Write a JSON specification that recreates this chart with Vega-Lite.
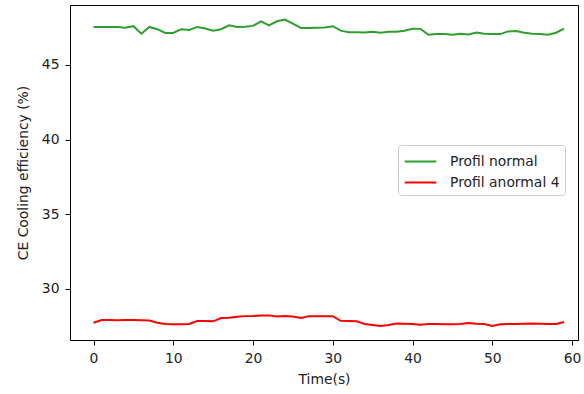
{
  "$schema": "https://vega.github.io/schema/vega-lite/v6.json",
  "width": 508,
  "height": 335,
  "autosize": {"type": "none"},
  "padding": {"left": 70, "top": 5, "right": 6, "bottom": 54},
  "config": {
    "font": "DejaVu Sans",
    "view": {"stroke": "#000", "strokeWidth": 1},
    "axis": {
      "grid": false,
      "labelFont": "DejaVu Sans",
      "titleFont": "DejaVu Sans",
      "labelFontSize": 13.9,
      "titleFontSize": 13.9,
      "titleFontWeight": "normal",
      "labelColor": "#222",
      "titleColor": "#222",
      "tickColor": "#000",
      "domainColor": "#000",
      "tickSize": 5,
      "labelPadding": 6
    }
  },
  "data": {
    "values": [
      {"t": 0, "Profil normal": 47.55, "Profil anormal 4": 27.73},
      {"t": 1, "Profil normal": 47.55, "Profil anormal 4": 27.91},
      {"t": 2, "Profil normal": 47.55, "Profil anormal 4": 27.91},
      {"t": 3, "Profil normal": 47.55, "Profil anormal 4": 27.89},
      {"t": 4, "Profil normal": 47.5, "Profil anormal 4": 27.91},
      {"t": 5, "Profil normal": 47.6, "Profil anormal 4": 27.91},
      {"t": 6, "Profil normal": 47.1, "Profil anormal 4": 27.89},
      {"t": 7, "Profil normal": 47.55, "Profil anormal 4": 27.87},
      {"t": 8, "Profil normal": 47.4, "Profil anormal 4": 27.73},
      {"t": 9, "Profil normal": 47.15, "Profil anormal 4": 27.64},
      {"t": 10, "Profil normal": 47.15, "Profil anormal 4": 27.62},
      {"t": 11, "Profil normal": 47.4, "Profil anormal 4": 27.62},
      {"t": 12, "Profil normal": 47.35, "Profil anormal 4": 27.64},
      {"t": 13, "Profil normal": 47.55, "Profil anormal 4": 27.84},
      {"t": 14, "Profil normal": 47.45, "Profil anormal 4": 27.84},
      {"t": 15, "Profil normal": 47.3, "Profil anormal 4": 27.82},
      {"t": 16, "Profil normal": 47.4, "Profil anormal 4": 28.04},
      {"t": 17, "Profil normal": 47.66, "Profil anormal 4": 28.06},
      {"t": 18, "Profil normal": 47.55, "Profil anormal 4": 28.13},
      {"t": 19, "Profil normal": 47.57, "Profil anormal 4": 28.17},
      {"t": 20, "Profil normal": 47.62, "Profil anormal 4": 28.18},
      {"t": 21, "Profil normal": 47.93, "Profil anormal 4": 28.22},
      {"t": 22, "Profil normal": 47.66, "Profil anormal 4": 28.22},
      {"t": 23, "Profil normal": 47.93, "Profil anormal 4": 28.15},
      {"t": 24, "Profil normal": 48.04, "Profil anormal 4": 28.17},
      {"t": 25, "Profil normal": 47.77, "Profil anormal 4": 28.15},
      {"t": 26, "Profil normal": 47.48, "Profil anormal 4": 28.04},
      {"t": 27, "Profil normal": 47.48, "Profil anormal 4": 28.17},
      {"t": 28, "Profil normal": 47.5, "Profil anormal 4": 28.17},
      {"t": 29, "Profil normal": 47.52, "Profil anormal 4": 28.17},
      {"t": 30, "Profil normal": 47.6, "Profil anormal 4": 28.17},
      {"t": 31, "Profil normal": 47.3, "Profil anormal 4": 27.86},
      {"t": 32, "Profil normal": 47.2, "Profil anormal 4": 27.84},
      {"t": 33, "Profil normal": 47.2, "Profil anormal 4": 27.82},
      {"t": 34, "Profil normal": 47.18, "Profil anormal 4": 27.64},
      {"t": 35, "Profil normal": 47.23, "Profil anormal 4": 27.57},
      {"t": 36, "Profil normal": 47.16, "Profil anormal 4": 27.51},
      {"t": 37, "Profil normal": 47.23, "Profil anormal 4": 27.57},
      {"t": 38, "Profil normal": 47.23, "Profil anormal 4": 27.68},
      {"t": 39, "Profil normal": 47.3, "Profil anormal 4": 27.66},
      {"t": 40, "Profil normal": 47.43, "Profil anormal 4": 27.64},
      {"t": 41, "Profil normal": 47.42, "Profil anormal 4": 27.6},
      {"t": 42, "Profil normal": 47.03, "Profil anormal 4": 27.64},
      {"t": 43, "Profil normal": 47.07, "Profil anormal 4": 27.64},
      {"t": 44, "Profil normal": 47.07, "Profil anormal 4": 27.62},
      {"t": 45, "Profil normal": 47.03, "Profil anormal 4": 27.62},
      {"t": 46, "Profil normal": 47.1, "Profil anormal 4": 27.64},
      {"t": 47, "Profil normal": 47.05, "Profil anormal 4": 27.71},
      {"t": 48, "Profil normal": 47.17, "Profil anormal 4": 27.66},
      {"t": 49, "Profil normal": 47.1, "Profil anormal 4": 27.64},
      {"t": 50, "Profil normal": 47.07, "Profil anormal 4": 27.51},
      {"t": 51, "Profil normal": 47.07, "Profil anormal 4": 27.62},
      {"t": 52, "Profil normal": 47.25, "Profil anormal 4": 27.64},
      {"t": 53, "Profil normal": 47.27, "Profil anormal 4": 27.64},
      {"t": 54, "Profil normal": 47.16, "Profil anormal 4": 27.66},
      {"t": 55, "Profil normal": 47.1, "Profil anormal 4": 27.68},
      {"t": 56, "Profil normal": 47.07, "Profil anormal 4": 27.66},
      {"t": 57, "Profil normal": 47.03, "Profil anormal 4": 27.64},
      {"t": 58, "Profil normal": 47.16, "Profil anormal 4": 27.64},
      {"t": 59, "Profil normal": 47.43, "Profil anormal 4": 27.77}
    ]
  },
  "transform": [
    {"fold": ["Profil normal", "Profil anormal 4"], "as": ["series", "value"]}
  ],
  "mark": {"type": "line", "strokeWidth": 2, "clip": true},
  "encoding": {
    "x": {
      "field": "t",
      "type": "quantitative",
      "scale": {"domain": [-2.95, 60.75], "nice": false, "zero": false},
      "axis": {"values": [0, 10, 20, 30, 40, 50, 60], "title": "Time(s)", "titlePadding": 8}
    },
    "y": {
      "field": "value",
      "type": "quantitative",
      "scale": {"domain": [26.57, 49.02], "nice": false, "zero": false},
      "axis": {"values": [30, 35, 40, 45], "title": "CE Cooling efficiency (%)", "titlePadding": 11}
    },
    "color": {
      "field": "series",
      "type": "nominal",
      "scale": {"domain": ["Profil normal", "Profil anormal 4"], "range": ["#2ca02c", "#ff0000"]},
      "legend": {
        "title": null,
        "orient": "none",
        "legendX": 328,
        "legendY": 140,
        "strokeColor": "#cccccc",
        "fillColor": "#ffffff",
        "cornerRadius": 3,
        "padding": 5,
        "labelFont": "DejaVu Sans",
        "labelFontSize": 13.9,
        "labelColor": "#222",
        "labelOffset": 18,
        "symbolType": "M-1.5,0H1.5",
        "symbolSize": 441,
        "symbolOffset": 6,
        "symbolStrokeWidth": 2,
        "rowPadding": 2
      }
    }
  }
}
